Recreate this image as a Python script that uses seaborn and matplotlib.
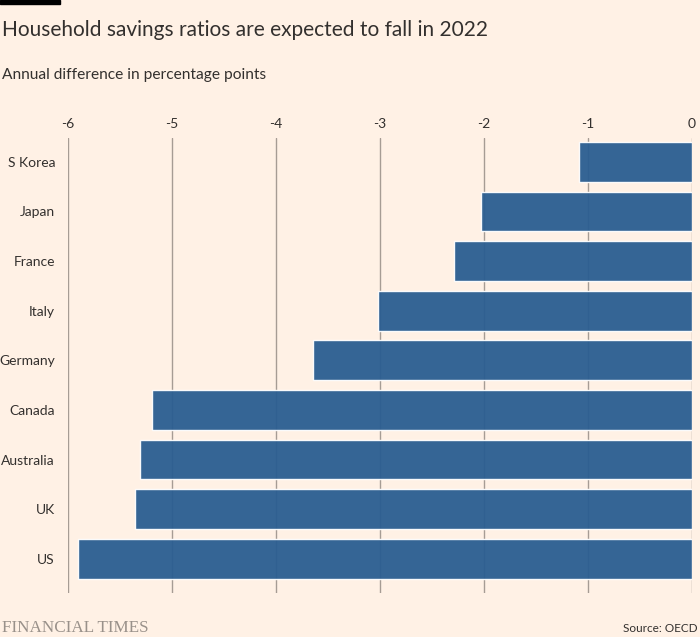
import matplotlib
matplotlib.use("Agg")
import matplotlib.pyplot as plt
import seaborn as sns
import pandas as pd

countries = ["S Korea", "Japan", "France", "Italy", "Germany", "Canada", "Australia", "UK", "US"]
values = [-1.09, -2.03, -2.29, -3.02, -3.64, -5.19, -5.30, -5.35, -5.90]
ticks = [-6, -5, -4, -3, -2, -1, 0]

df = pd.DataFrame({"country": countries, "value": values})

bg = "#fff1e5"
txt = "#33302e"
sns.set_theme(style="white")
plt.rcParams["font.family"] = ["Lato", "DejaVu Sans"]

fig = plt.figure(figsize=(7, 6.37), dpi=100, facecolor=bg)
ax = fig.add_axes([67.5 / 700, 1 - 593 / 637, (692 - 67.5) / 700, (593 - 138) / 637])
ax.set_facecolor(bg)

for t in ticks:
    ax.axvline(t, color="#a69c94", lw=1, zorder=0)

sns.barplot(data=df, x="value", y="country", orient="h", color="#2a5d91",
            saturation=1, width=0.8, alpha=0.95, ax=ax, zorder=2)

ax.set_xlim(-6, 0)
ax.set_ylim(8.69, -0.48)
ax.set_xticks(ticks)
ax.set_xticklabels([str(t) for t in ticks])
ax.xaxis.tick_top()
ax.tick_params(axis="x", length=0, pad=6, labelsize=10, labelcolor=txt)
ax.tick_params(axis="y", length=0, pad=9, labelsize=10, labelcolor=txt)
ax.set_xlabel("")
ax.set_ylabel("")
for s in ax.spines.values():
    s.set_visible(False)

fig.patches.append(plt.Rectangle((0, 1 - 4 / 637), 60 / 700, 4 / 637,
                                 transform=fig.transFigure, color="black", zorder=5))
fig.text(2 / 700, 1 - 30 / 637, "Household savings ratios are expected to fall in 2022",
         fontsize=15, color=txt, va="center", ha="left")
fig.text(2 / 700, 1 - 75 / 637, "Annual difference in percentage points",
         fontsize=11.2, color=txt, va="center", ha="left")
fig.text(2 / 700, 1 - 628 / 637, "FINANCIAL TIMES", family=["Liberation Serif"],
         fontsize=12.3, color="#99918a", va="center", ha="left")
fig.text(698 / 700, 1 - 629 / 637, "Source: OECD", fontsize=8.5, color=txt,
         va="center", ha="right")

fig.savefig("out.png", dpi=100, facecolor=bg)
